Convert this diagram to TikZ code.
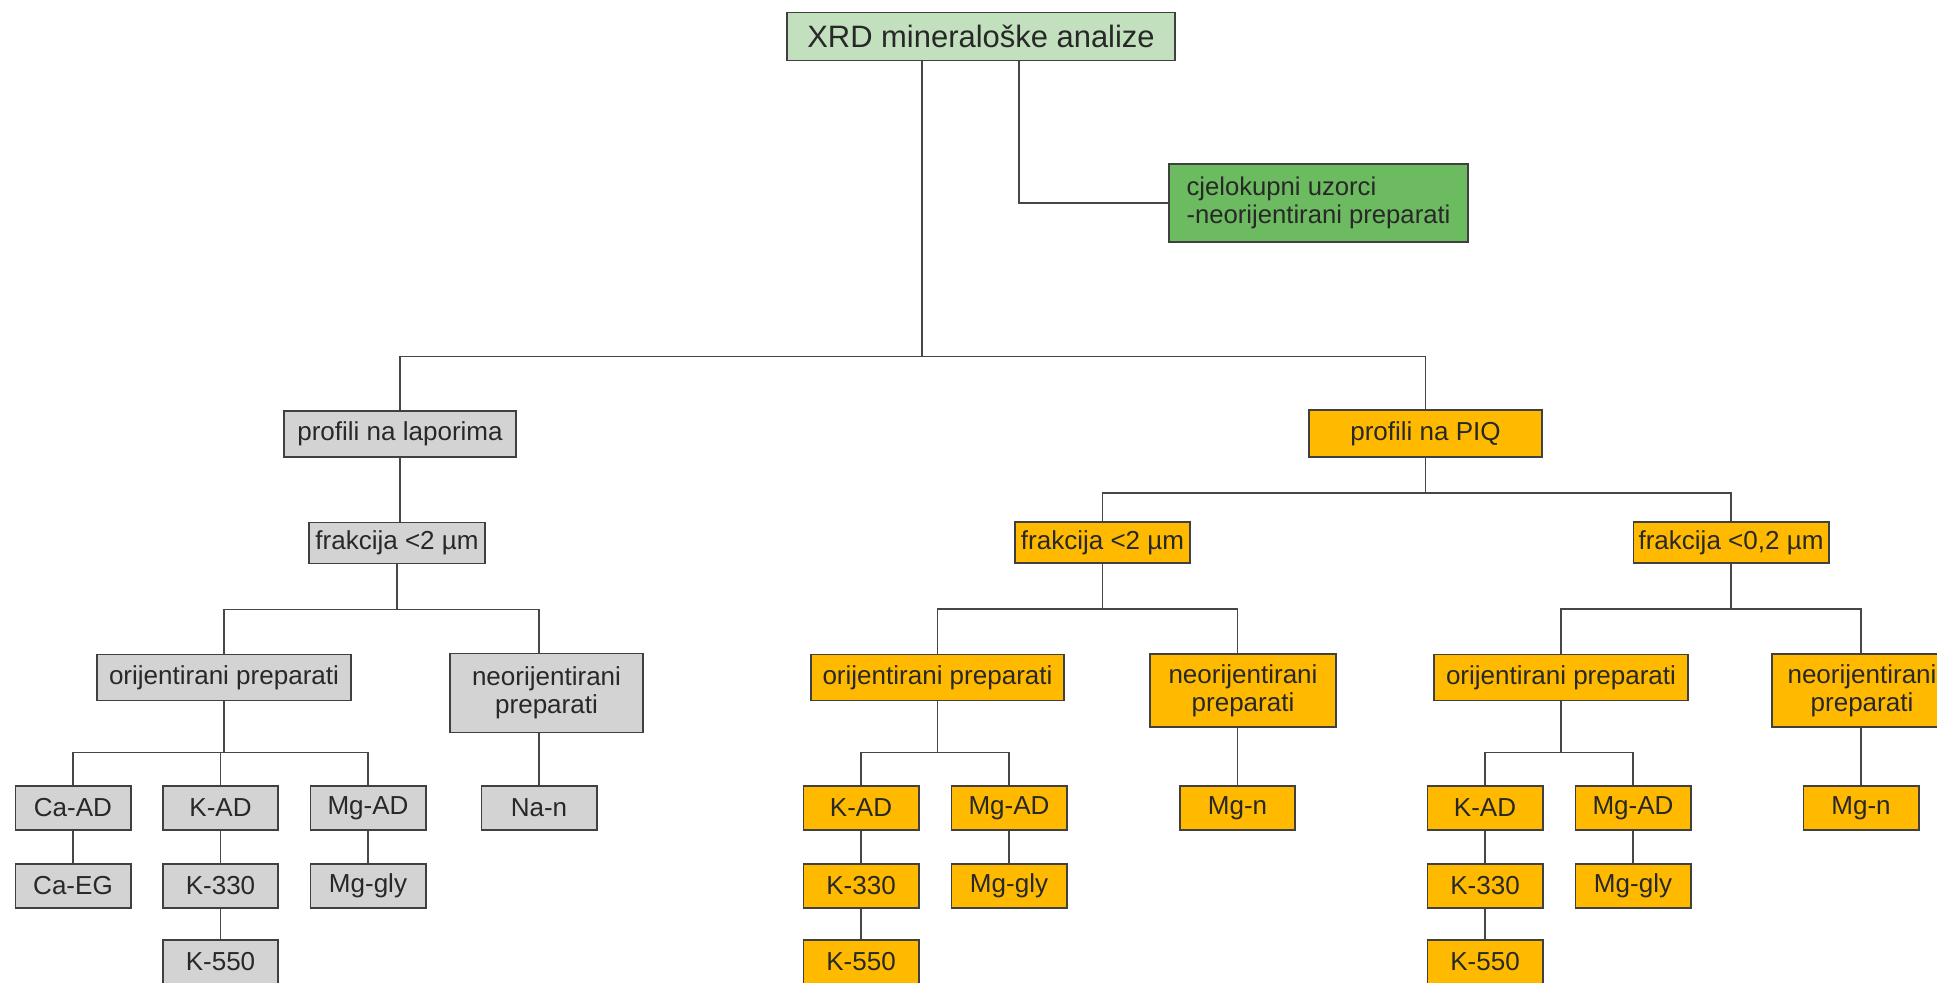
\documentclass[tikz,border=0pt]{standalone}
\usepackage{fontspec}
\setmainfont{Liberation Sans}

\definecolor{edgegray}{RGB}{64,64,64}
\definecolor{linegray}{RGB}{70,70,70}
\definecolor{textgray}{RGB}{40,40,40}
\definecolor{grayfill}{RGB}{211,211,211}
\definecolor{orangefill}{RGB}{255,186,0}
\definecolor{palegreen}{RGB}{195,224,190}
\definecolor{leafgreen}{RGB}{108,187,96}

\begin{document}
\begin{tikzpicture}[x=0.01cm, y=-0.01cm,
  box/.style={draw=edgegray, line width=0.55pt, inner sep=0pt, text=textgray,
    font=\fontsize{7.4}{8}\selectfont},
  graybox/.style={box, fill=grayfill},
  orangebox/.style={box, fill=orangefill},
  small/.style={minimum width=1.15cm, minimum height=0.44cm},
  wide/.style={minimum width=2.53cm, minimum height=0.46cm},
  link/.style={draw=linegray, line width=0.5pt}]
\useasboundingbox (0,0) rectangle (1937,982);

% Root
\node[box, fill=palegreen, minimum width=3.88cm, minimum height=0.48cm,
  font=\fontsize{8.8}{10}\selectfont] (xrd) at (981,36.5) {XRD mineraloške analize};
\node[box, fill=leafgreen, minimum width=2.99cm, minimum height=0.78cm, align=left,
  font=\fontsize{7.3}{8}\selectfont] (cje) at (1318.5,203) {cjelokupni uzorci\\-neorijentirani preparati};

% Profiles
\node[graybox, minimum width=2.32cm, minimum height=0.46cm] (lap) at (400,434) {profili na laporima};
\node[orangebox, minimum width=2.33cm, minimum height=0.47cm] (piq) at (1425.5,433.5) {profili na PIQ};

% Fractions
\node[graybox, minimum width=1.76cm, minimum height=0.41cm] (frakL) at (397,543) {frakcija <2 µm};
\node[orangebox, minimum width=1.75cm, minimum height=0.41cm] (frakM) at (1102.5,542.5) {frakcija <2 µm};
\node[orangebox, minimum width=1.95cm, minimum height=0.41cm] (frakR) at (1731,542.5) {frakcija <0,2 µm};

% Preparations
\node[graybox, wide] (oriL) at (224,677.5) {orijentirani preparati};
\node[graybox, minimum width=1.92cm, minimum height=0.79cm, align=center] (neoL) at (546.5,693) {neorijentirani\\preparati};
\node[orangebox, wide] (oriM) at (937.5,677.5) {orijentirani preparati};
\node[orangebox, minimum width=1.86cm, minimum height=0.73cm, align=center] (neoM) at (1243,690.5) {neorijentirani\\preparati};
\node[orangebox, wide] (oriR) at (1561,677.5) {orijentirani preparati};
\node[orangebox, minimum width=1.80cm, minimum height=0.73cm, align=center] (neoR) at (1862,690.5) {neorijentirani\\preparati};

% Treatments, left
\node[graybox, small] (caadL) at (73,808) {Ca-AD};
\node[graybox, small] (kadL) at (220.5,808) {K-AD};
\node[graybox, small] (mgadL) at (368,808) {Mg-AD};
\node[graybox, small] (nanL) at (539,808) {Na-n};
\node[graybox, small] (caegL) at (73,886) {Ca-EG};
\node[graybox, small] (k330L) at (220.5,886) {K-330};
\node[graybox, small] (mgglyL) at (368,886) {Mg-gly};
\node[graybox, small] (k550L) at (220.5,962) {K-550};

% Treatments, middle
\node[orangebox, small] (kadM) at (861,808) {K-AD};
\node[orangebox, small] (mgadM) at (1009,808) {Mg-AD};
\node[orangebox, small] (mgnM) at (1237.5,808) {Mg-n};
\node[orangebox, small] (k330M) at (861,886) {K-330};
\node[orangebox, small] (mgglyM) at (1009,886) {Mg-gly};
\node[orangebox, small] (k550M) at (861,962) {K-550};

% Treatments, right
\node[orangebox, small] (kadR) at (1485,808) {K-AD};
\node[orangebox, small] (mgadR) at (1633,808) {Mg-AD};
\node[orangebox, small] (mgnR) at (1861,808) {Mg-n};
\node[orangebox, small] (k330R) at (1485,886) {K-330};
\node[orangebox, small] (mgglyR) at (1633,886) {Mg-gly};
\node[orangebox, small] (k550R) at (1485,962) {K-550};

% Connectors
\draw[link] ([xshift=-0.59cm]xrd.south) -- ++(0,295) coordinate (topbus) -| (lap.north);
\draw[link] (topbus) -| (piq.north);
\draw[link] ([xshift=0.38cm]xrd.south) |- (cje.west);
\draw[link] (lap.south) -- (lap.south |- frakL.north);
\foreach \p/\c/\d in {piq/frakM/35, piq/frakR/35,
    frakL/oriL/45, frakM/oriM/45, frakR/oriR/45,
    oriL/caadL/51, oriL/kadL/51, oriL/mgadL/51, oriM/kadM/51, oriM/mgadM/51, oriR/kadR/51, oriR/mgadR/51}
  \draw[link] (\p.south) -- ++(0,\d) -| (\c.north);
% unoriented branch runs straight down to its leaf
\foreach \p/\c/\l in {frakL/neoL/nanL, frakM/neoM/mgnM, frakR/neoR/mgnR} {
  \draw[link] (\p.south) -- ++(0,45) -| (\l |- \c.north);
  \draw[link] (\l |- \c.south) -- (\l.north);
}
\foreach \p/\c in {caadL/caegL, kadL/k330L, k330L/k550L, mgadL/mgglyL,
    kadM/k330M, k330M/k550M, mgadM/mgglyM, kadR/k330R, k330R/k550R, mgadR/mgglyR}
  \draw[link] (\p.south) -- (\p.south |- \c.north);
\end{tikzpicture}
\end{document}
